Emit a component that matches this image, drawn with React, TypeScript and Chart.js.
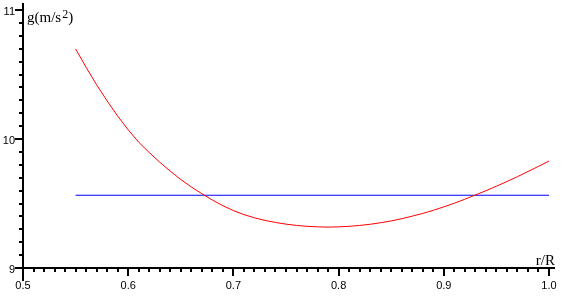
import React, { useEffect, useRef } from "react";
import { Chart, registerables } from "chart.js";

Chart.register(...registerables);

// r/R sample positions
const radiusRatio = [
  0.55, 0.56, 0.57, 0.58, 0.59, 0.6, 0.61, 0.62, 0.63, 0.64,
  0.65, 0.66, 0.67, 0.68, 0.69, 0.7, 0.71, 0.72, 0.73, 0.74,
  0.75, 0.76, 0.77, 0.78, 0.79, 0.8, 0.81, 0.82, 0.83, 0.84,
  0.85, 0.86, 0.87, 0.88, 0.89, 0.9, 0.91, 0.92, 0.93, 0.94,
  0.95, 0.96, 0.97, 0.98, 0.99, 1.0,
];
// g (m/s^2)
const gravity = [
  10.698, 10.556, 10.42, 10.295, 10.178, 10.071, 9.975, 9.895, 9.82, 9.751,
  9.686, 9.628, 9.576, 9.527, 9.483, 9.445, 9.414, 9.389, 9.369, 9.353,
  9.34, 9.33, 9.323, 9.319, 9.317, 9.319, 9.323, 9.33, 9.339, 9.351,
  9.365, 9.382, 9.402, 9.423, 9.447, 9.474, 9.502, 9.533, 9.566, 9.599,
  9.634, 9.67, 9.708, 9.748, 9.788, 9.829,
];
// constant reference level
const referenceR = [0.55, 1.0];
const referenceG = [9.564, 9.564];

const xRange = [0.5, 1.0];
const yRange = [9, 11];
const xMajorStep = 0.1;
const xMinorCount = 10;
const yMajorStep = 1;
const yMinorCount = 10;
const yTitleParts = ["g(m/s", "2", ")"];
const xTitle = "r/R";

export default function App() {
  const canvasRef = useRef<HTMLCanvasElement | null>(null);

  useEffect(() => {
    document.body.style.margin = "0";
    const canvas = canvasRef.current;
    if (!canvas) return;

    const axesPlugin = {
      id: "mapleAxes",
      afterDraw(chart: any) {
        const ctx = chart.ctx;
        const xs = chart.scales.x;
        const ys = chart.scales.y;
        const x0 = xs.getPixelForValue(xRange[0]);
        const xEnd = xs.getPixelForValue(xRange[1]);
        const y0 = ys.getPixelForValue(yRange[0]);
        const yTop = ys.getPixelForValue(yRange[1]);
        ctx.save();
        ctx.strokeStyle = "#000000";
        ctx.lineWidth = 2;
        ctx.beginPath();
        // axis lines
        ctx.moveTo(x0, yTop - 7);
        ctx.lineTo(x0, y0 + 13);
        ctx.moveTo(x0 - 8, y0);
        ctx.lineTo(xEnd + 6, y0);
        // x minor ticks
        const xMinor = xMajorStep / xMinorCount;
        const nx = Math.round((xRange[1] - xRange[0]) / xMinor);
        for (let i = 1; i < nx; i++) {
          if (i % xMinorCount === 0) continue;
          const px = Math.round(xs.getPixelForValue(xRange[0] + i * xMinor));
          ctx.moveTo(px, y0);
          ctx.lineTo(px, y0 + 4);
        }
        // y minor ticks
        const yMinor = yMajorStep / yMinorCount;
        const ny = Math.round((yRange[1] - yRange[0]) / yMinor);
        for (let i = 1; i < ny; i++) {
          if (i % yMinorCount === 0) continue;
          const py = Math.round(ys.getPixelForValue(yRange[0] + i * yMinor));
          ctx.moveTo(x0 - 4, py);
          ctx.lineTo(x0, py);
        }
        ctx.stroke();

        // axis titles
        ctx.fillStyle = "#000000";
        ctx.textBaseline = "alphabetic";
        ctx.textAlign = "left";
        const mainFont = "15px 'Liberation Serif', 'Times New Roman', serif";
        const supFont = "12px 'Liberation Serif', 'Times New Roman', serif";
        let tx = x0 + 4;
        const tb = yTop + 12;
        ctx.font = mainFont;
        ctx.fillText(yTitleParts[0], tx, tb);
        tx += ctx.measureText(yTitleParts[0]).width + 1;
        ctx.font = supFont;
        ctx.fillText(yTitleParts[1], tx, tb - 4);
        tx += ctx.measureText(yTitleParts[1]).width;
        ctx.font = mainFont;
        ctx.fillText(yTitleParts[2], tx, tb);

        ctx.textAlign = "right";
        ctx.fillText(xTitle, xEnd + 6, y0 - 3);
        ctx.restore();
      },
    };

    const tickFont = { family: "'Liberation Sans', Arial, sans-serif", size: 11 };

    const chart = new Chart(canvas, {
      type: "line",
      data: {
        datasets: [
          {
            data: radiusRatio.map((r, i) => ({ x: r, y: gravity[i] })),
            borderColor: "#ff0000",
            borderWidth: 1,
            pointRadius: 0,
            tension: 0,
            fill: false,
          },
          {
            data: referenceR.map((r, i) => ({ x: r, y: referenceG[i] })),
            borderColor: "#0000ff",
            borderWidth: 1,
            pointRadius: 0,
            tension: 0,
            fill: false,
          },
        ],
      },
      options: {
        responsive: false,
        animation: false,
        devicePixelRatio: 1,
        layout: { padding: { top: 10, right: 14, left: 0, bottom: 0 } },
        plugins: {
          legend: { display: false },
          tooltip: { enabled: false },
          title: { display: false },
        },
        scales: {
          x: {
            type: "linear",
            min: xRange[0],
            max: xRange[1],
            afterFit: (scale: any) => {
              scale.height = 35;
            },
            border: { display: false },
            grid: {
              drawOnChartArea: false,
              drawTicks: true,
              tickLength: 8,
              lineWidth: 2,
              color: "#000000",
              tickColor: "#000000",
            },
            ticks: {
              stepSize: xMajorStep,
              autoSkip: false,
              maxRotation: 0,
              padding: 3,
              color: "#000000",
              font: tickFont,
              callback: (v: any) => Number(v).toFixed(1),
            },
          },
          y: {
            type: "linear",
            min: yRange[0],
            max: yRange[1],
            afterFit: (scale: any) => {
              scale.width = 23;
            },
            border: { display: false },
            grid: {
              drawOnChartArea: false,
              drawTicks: true,
              tickLength: 8,
              lineWidth: 2,
              color: "#000000",
              tickColor: "#000000",
            },
            ticks: {
              stepSize: yMajorStep,
              padding: 0,
              labelOffset: 2,
              color: "#000000",
              font: tickFont,
              callback: (v: any) => String(Number(v)),
            },
          },
        },
      },
      plugins: [axesPlugin],
    });

    return () => {
      chart.destroy();
    };
  }, []);

  return (
    <div style={{ width: 563, height: 303, position: "relative", background: "#ffffff" }}>
      <canvas ref={canvasRef} width={563} height={303} style={{ display: "block" }} />
    </div>
  );
}
